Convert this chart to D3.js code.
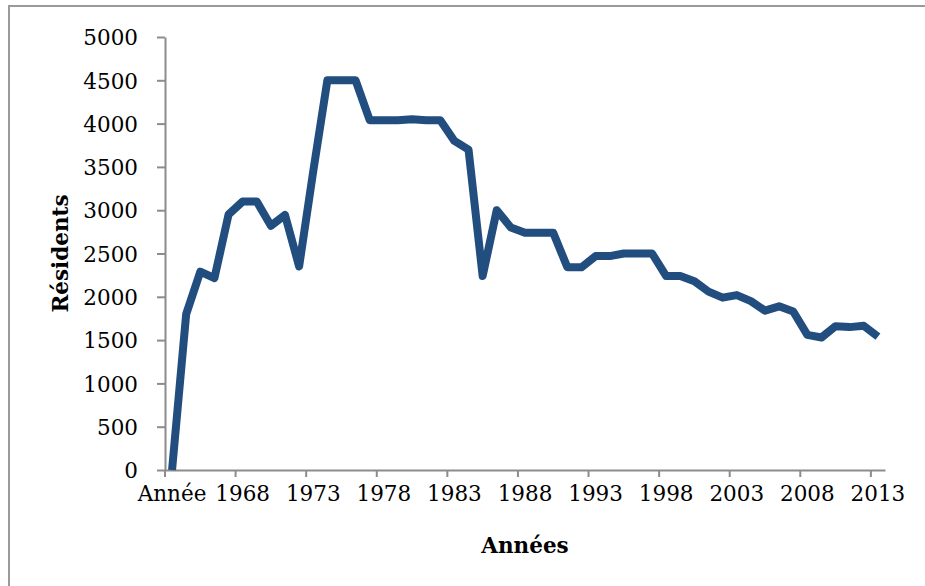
<!DOCTYPE html>
<html>
<head>
<meta charset="utf-8">
<script src="https://cdn.jsdelivr.net/npm/d3@7"></script>
<style>
  html, body { margin: 0; padding: 0; background: #fff; }
  svg { display: block; }
</style>
</head>
<body>
<svg id="chart" width="925" height="586"></svg>
<script>
const categories = ["Année",
  "1964","1965","1966","1967","1968","1969","1970","1971","1972","1973",
  "1974","1975","1976","1977","1978","1979","1980","1981","1982","1983",
  "1984","1985","1986","1987","1988","1989","1990","1991","1992","1993",
  "1994","1995","1996","1997","1998","1999","2000","2001","2002","2003",
  "2004","2005","2006","2007","2008","2009","2010","2011","2012","2013"];
const residents = [0,
  1800, 2290, 2215, 2950, 3100, 3100, 2820, 2945, 2350, 3450,
  4500, 4500, 4500, 4040, 4040, 4040, 4050, 4040, 4040, 3800,
  3700, 2240, 3000, 2800, 2740, 2740, 2740, 2340, 2340, 2470,
  2470, 2500, 2500, 2500, 2240, 2240, 2180, 2060, 1990, 2020,
  1950, 1840, 1890, 1830, 1560, 1530, 1660, 1650, 1665, 1540];
const yTicks = [0, 500, 1000, 1500, 2000, 2500, 3000, 3500, 4000, 4500, 5000];
const xTickLabels = ["Année","1968","1973","1978","1983","1988","1993","1998","2003","2008","2013"];
const xTitle = "Années";
const yTitle = "Résidents";

(function () {
const svg = d3.select("#chart");
const pLeft = 165, pRight = 885, pTop = 37, pBottom = 470;
const axisColor = "#8c8c8c";
const font = "'DejaVu Serif', serif";

// outer frame
svg.append("rect")
  .attr("x", 9).attr("y", 6).attr("width", 960).attr("height", 620)
  .attr("fill", "none").attr("stroke", "#9a9a9a").attr("stroke-width", 2);

const x = d3.scaleBand().domain(categories).range([pLeft, pRight]).padding(0);
const y = d3.scaleLinear().domain([0, 5000]).range([pBottom, pTop]);
const bw = x.bandwidth();

// Y axis
const yAxis = svg.append("g").attr("transform", `translate(${pLeft},0)`)
  .call(d3.axisLeft(y).tickValues(yTicks).tickSize(8).tickSizeOuter(0).tickPadding(19).tickFormat(d3.format("d")));
yAxis.select(".domain").attr("stroke", axisColor).attr("stroke-width", 2);
yAxis.selectAll(".tick line").attr("stroke", axisColor).attr("stroke-width", 2);
yAxis.selectAll(".tick text").attr("font-family", font).attr("font-size", 21.5)
  .attr("fill", "#000").attr("dy", "0.36em");

// X axis
const xAxis = svg.append("g").attr("transform", `translate(0,${pBottom})`)
  .call(d3.axisBottom(x).tickValues(xTickLabels).tickSize(7).tickSizeOuter(0).tickPadding(8));
xAxis.select(".domain").attr("stroke", axisColor).attr("stroke-width", 2);
xAxis.selectAll(".tick line").attr("stroke", axisColor).attr("stroke-width", 2)
  .attr("x1", -bw / 2).attr("x2", -bw / 2);
xAxis.selectAll(".tick text").attr("font-family", font).attr("font-size", 21.5)
  .attr("fill", "#000").attr("dy", "0.75em");

// line
const line = d3.line()
  .x((d, i) => x(categories[i]) + bw / 2)
  .y(d => y(d));
svg.append("path").datum(residents)
  .attr("d", line)
  .attr("fill", "none")
  .attr("stroke", "#214d7f")
  .attr("stroke-width", 8)
  .attr("stroke-linejoin", "round")
  .attr("stroke-linecap", "butt");

// titles
svg.append("text")
  .attr("x", 525).attr("y", 553)
  .attr("text-anchor", "middle")
  .attr("font-family", font).attr("font-weight", "bold").attr("font-size", 21.5)
  .attr("fill", "#000").text(xTitle);
svg.append("text")
  .attr("transform", `translate(68,${(pTop + pBottom) / 2}) rotate(-90)`)
  .attr("text-anchor", "middle")
  .attr("font-family", font).attr("font-weight", "bold").attr("font-size", 21.5)
  .attr("fill", "#000").text(yTitle);
})();
</script>
</body>
</html>
